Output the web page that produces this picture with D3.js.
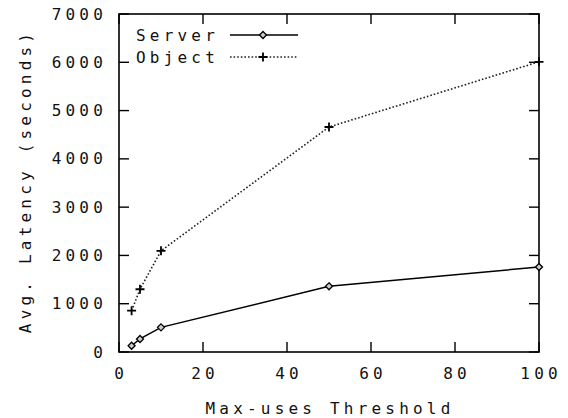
<!DOCTYPE html>
<html>
<head>
<meta charset="utf-8">
<script src="https://cdn.jsdelivr.net/npm/d3@7"></script>
<style>
  html, body { margin: 0; padding: 0; background: #fff; }
  svg text { font-family: "DejaVu Sans Mono", "Liberation Mono", monospace; font-size: 16px; letter-spacing: 4.2px; fill: #111; }
</style>
</head>
<body>
<svg id="chart" width="568" height="418"></svg>
<script>
// Max-uses threshold vs. average latency
const thresholds = [3, 5, 10, 50, 100];
const serverLatency = [130, 270, 510, 1360, 1760];
const objectLatency = [855, 1300, 2095, 4660, 6010];
const seriesNames = ["Server", "Object"];
const xTicks = [0, 20, 40, 60, 80, 100];
const yTicks = [0, 1000, 2000, 3000, 4000, 5000, 6000, 7000];

const svg = d3.select("#chart");
const plotL = 119, plotR = 539, plotT = 14, plotB = 352;
const x = d3.scaleLinear().domain([0, 100]).range([plotL, plotR]);
const y = d3.scaleLinear().domain([0, 7000]).range([plotB, plotT]);
const tickLen = 10;

// frame
svg.append("rect")
  .attr("x", plotL).attr("y", plotT)
  .attr("width", plotR - plotL).attr("height", plotB - plotT)
  .attr("fill", "none").attr("stroke", "#000").attr("stroke-width", 1.6);

// inward ticks on all four sides
const g = svg.append("g").attr("stroke", "#000").attr("stroke-width", 1.4);
xTicks.forEach(t => {
  g.append("line").attr("x1", x(t)).attr("x2", x(t)).attr("y1", plotB).attr("y2", plotB - tickLen);
  g.append("line").attr("x1", x(t)).attr("x2", x(t)).attr("y1", plotT).attr("y2", plotT + tickLen);
});
yTicks.forEach(t => {
  g.append("line").attr("y1", y(t)).attr("y2", y(t)).attr("x1", plotL).attr("x2", plotL + tickLen);
  g.append("line").attr("y1", y(t)).attr("y2", y(t)).attr("x1", plotR).attr("x2", plotR - tickLen);
});

// tick labels
svg.append("g").selectAll("text").data(xTicks).join("text")
  .attr("x", d => x(d) + 2.1).attr("y", 373)
  .attr("text-anchor", "middle").attr("dominant-baseline", "central")
  .text(d => d);
svg.append("g").selectAll("text").data(yTicks).join("text")
  .attr("x", 107).attr("y", d => y(d))
  .attr("text-anchor", "end").attr("dominant-baseline", "central")
  .text(d => d);

// axis titles
svg.append("text").attr("x", 330).attr("y", 408)
  .attr("text-anchor", "middle").attr("dominant-baseline", "central")
  .text("Max-uses Threshold");
svg.append("text")
  .attr("transform", "translate(25,181) rotate(-90)")
  .attr("text-anchor", "middle").attr("dominant-baseline", "central")
  .text("Avg. Latency (seconds)");

const line = d3.line().x(d => x(d[0])).y(d => y(d[1]));
const serverPts = thresholds.map((t, i) => [t, serverLatency[i]]);
const objectPts = thresholds.map((t, i) => [t, objectLatency[i]]);

// marker shapes
function diamond(sel, cx, cy) {
  sel.append("path")
    .attr("d", `M${cx},${cy - 3.5}L${cx + 3.5},${cy}L${cx},${cy + 3.5}L${cx - 3.5},${cy}Z`)
    .attr("fill", "#ccc").attr("stroke", "#000").attr("stroke-width", 1.3);
}
function plus(sel, cx, cy) {
  sel.append("path")
    .attr("d", `M${cx - 4.5},${cy}H${cx + 4.5}M${cx},${cy - 4.5}V${cy + 4.5}`)
    .attr("stroke", "#000").attr("stroke-width", 1.8);
}

// Server series (solid)
svg.append("path").datum(serverPts).attr("d", line)
  .attr("fill", "none").attr("stroke", "#000").attr("stroke-width", 1.5);
const sm = svg.append("g");
serverPts.forEach(p => diamond(sm, x(p[0]), y(p[1])));

// Object series (dotted)
svg.append("path").datum(objectPts).attr("d", line)
  .attr("fill", "none").attr("stroke", "#222").attr("stroke-width", 1.6)
  .attr("stroke-dasharray", "1.6,2");
const om = svg.append("g");
objectPts.forEach(p => plus(om, x(p[0]), y(p[1])));

// legend
const legendRows = [
  { name: seriesNames[0], y: 35, dash: null, mark: diamond },
  { name: seriesNames[1], y: 57, dash: "1.6,2", mark: plus }
];
legendRows.forEach(r => {
  svg.append("text").attr("x", 219).attr("y", r.y)
    .attr("text-anchor", "end").attr("dominant-baseline", "central").text(r.name);
  const l = svg.append("line").attr("x1", 230).attr("x2", 298).attr("y1", r.y).attr("y2", r.y)
    .attr("stroke", "#000").attr("stroke-width", 1.5);
  if (r.dash) l.attr("stroke-dasharray", r.dash).attr("stroke", "#222");
  r.mark(svg, 263, r.y);
});
</script>
</body>
</html>
